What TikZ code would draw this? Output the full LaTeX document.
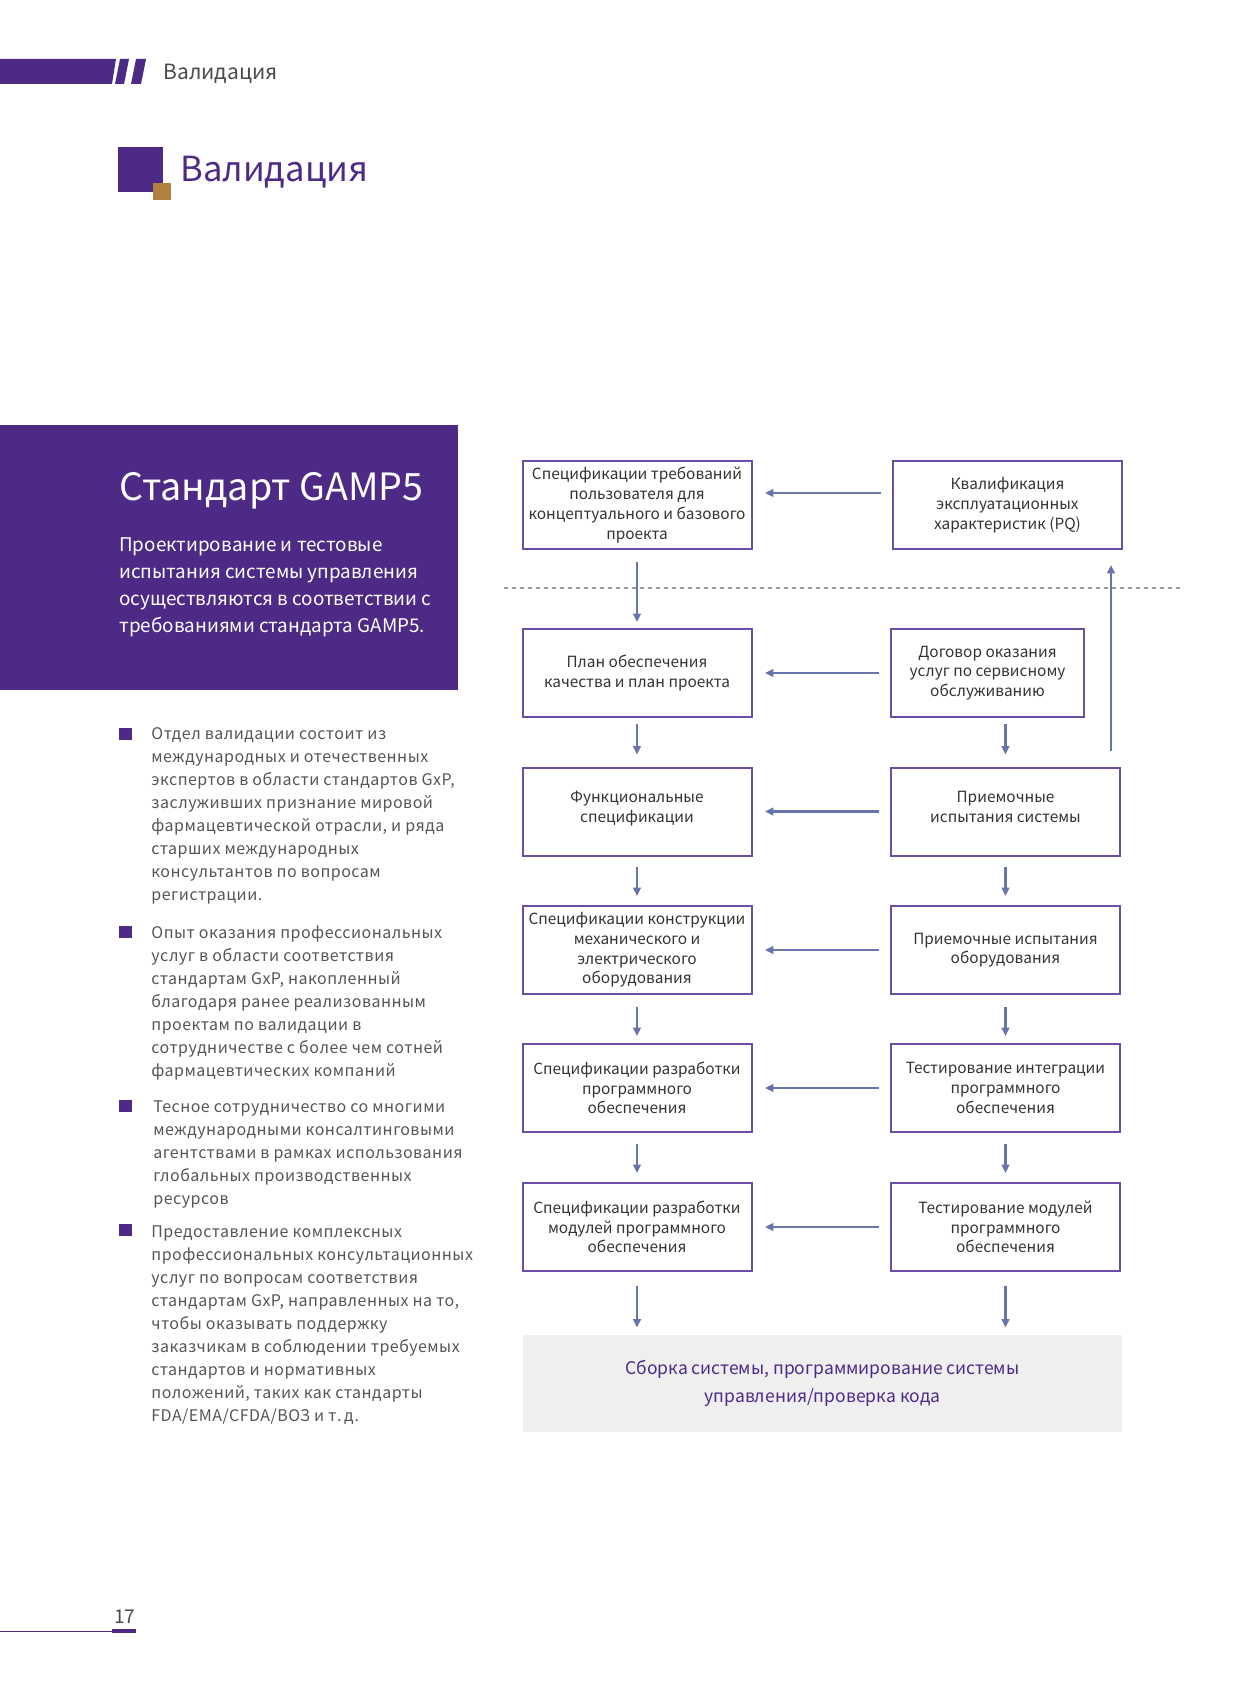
\documentclass[tikz,border=0pt]{standalone}
\usepackage{fontspec}
\setmainfont{Noto Sans CJK SC}
\newfontfamily\spacedfont[LetterSpace=3]{Noto Sans CJK SC}
\usetikzlibrary{arrows.meta}
\definecolor{purp}{HTML}{4E2A87}
\definecolor{bordc}{HTML}{6B4FA6}
\definecolor{arrc}{HTML}{6874AC}
\definecolor{gtext}{HTML}{4A4A4A}
\definecolor{btext}{HTML}{555555}
\definecolor{boxtext}{HTML}{333333}
\definecolor{gold}{HTML}{B0813F}
\definecolor{greybox}{HTML}{EFEFEF}
\definecolor{dashc}{HTML}{9A9A9A}
\tikzset{
  box/.style={draw=bordc, line width=1pt, minimum width=114.5pt, minimum height=44pt,
    align=center, inner sep=0pt, text=boxtext, font=\fontsize{7.7}{9.85}\selectfont},
  arr/.style={draw=arrc, line width=1.05pt, -{Triangle[length=4.2pt,width=3.8pt]}},
  dashline/.style={draw=dashc, line width=0.6pt, dash pattern=on 2pt off 2pt},
  bullettext/.style={anchor=base west, inner sep=0pt, text=btext, font=\spacedfont\fontsize{8}{11.5}\selectfont},
  bulletsq/.style={fill=purp},
}
\begin{document}
\begin{tikzpicture}[x=0.5pt,y=-0.5pt]
\useasboundingbox (0,0) rectangle (1240,1684);
% header band
\fill[purp] (0,59) -- (116,59) -- (112,84) -- (0,84) -- cycle;
\fill[purp] (120,59) -- (129,59) -- (124,84) -- (115,84) -- cycle;
\fill[purp] (136,59) -- (146,59) -- (141,84) -- (131,84) -- cycle;
\node[anchor=base west, inner sep=0pt, text=gtext, font=\fontsize{10.5}{12}\selectfont] (hdr) at (163,80) {Валидация};
% title
\fill[purp] (118,147) rectangle (163,192);
\fill[gold] (153,183) rectangle (171,200);
\node[anchor=base west, inner sep=0pt, text=purp, font=\fontsize{17.3}{20}\selectfont] (ttl) at (180,182) {Валидация};
% purple panel
\fill[purp] (0,425) rectangle (458,690);
\node[anchor=base west, inner sep=0pt, text=white, font=\fontsize{18.8}{22}\selectfont] (gamp) at (119,500) {Стандарт GAMP5};
\node[anchor=base west, inner sep=0pt, text=white, font=\fontsize{9.42}{13.5}\selectfont] (gampd) at (119,551)
 {\parbox[t]{200pt}{Проектирование и тестовые\\испытания системы управления\\осуществляются в соответствии с\\требованиями стандарта GAMP5.}};
% bullets
\fill[bulletsq] (119,728) rectangle (132,740);
\node[bullettext] (b1) at (151,739) {\parbox[t]{200pt}{Отдел валидации состоит из\\международных и отечественных\\экспертов в области стандартов GxP,\\заслуживших признание мировой\\фармацевтической отрасли, и ряда\\старших международных\\консультантов по вопросам\\регистрации.}};
\fill[bulletsq] (119,926) rectangle (132,938);
\node[bullettext] (b2) at (151,938) {\parbox[t]{200pt}{Опыт оказания профессиональных\\услуг в области соответствия\\стандартам GxP, накопленный\\благодаря ранее реализованным\\проектам по валидации в\\сотрудничестве с более чем сотней\\фармацевтических компаний}};
\fill[bulletsq] (119,1100) rectangle (132,1112);
\node[bullettext] (b3) at (153,1112) {\parbox[t]{200pt}{Тесное сотрудничество со многими\\международными консалтинговыми\\агентствами в рамках использования\\глобальных производственных\\ресурсов}};
\fill[bulletsq] (119,1224) rectangle (132,1236);
\node[bullettext] (b4) at (151,1237) {\parbox[t]{200pt}{Предоставление комплексных\\профессиональных консультационных\\услуг по вопросам соответствия\\стандартам GxP, направленных на то,\\чтобы оказывать поддержку\\заказчикам в соблюдении требуемых\\стандартов и нормативных\\положений, таких как стандарты\\FDA/EMA/CFDA/ВОЗ и т.\,д.}};
% page number
\draw[purp, line width=0.5pt] (0,1631) -- (112,1631);
\fill[purp] (112,1629) rectangle (136,1633);
\node[anchor=base west, inner sep=0pt, text=gtext, font=\fontsize{9.5}{11}\selectfont] (pg) at (114,1623) {17};
% dashed divider
\coordinate (d1) at (504,588);
\coordinate (d2) at (1181,588);
\draw[dashline] (d1) -- (d2);
% boxes
\node[box] (L1) at (637,505) {Спецификации требований\\пользователя для\\концептуального и базового\\проекта};
\node[box] (R1) at (1007.5,505) {Квалификация\\эксплуатационных\\характеристик (PQ)};
\node[box] (L2) at (637,673) {План обеспечения\\качества и план проекта};
\node[box, minimum width=96.5pt] (R2) at (987.5,673) {Договор оказания\\услуг по сервисному\\обслуживанию};
\node[box] (L3) at (637,811.5) {Функциональные\\спецификации\\[-5pt]\mbox{}};
\node[box] (R3) at (1005.5,811.5) {Приемочные\\испытания системы\\[-5pt]\mbox{}};
\node[box] (L4) at (637,950) {Спецификации конструкции\\механического и\\электрического\\оборудования};
\node[box] (R4) at (1005.5,950) {Приемочные испытания\\оборудования};
\node[box] (L5) at (637,1088) {Спецификации разработки\\программного\\обеспечения};
\node[box] (R5) at (1005.5,1088) {Тестирование интеграции\\программного\\обеспечения};
\node[box] (L6) at (637,1227) {Спецификации разработки\\модулей программного\\обеспечения};
\node[box] (R6) at (1005.5,1227) {Тестирование модулей\\программного\\обеспечения};
\node[fill=greybox, minimum width=299.5pt, minimum height=48.5pt, inner sep=0pt, align=center, text=purp,
  font=\fontsize{8.75}{14}\selectfont] (G) at (822.5,1383.5) {Сборка системы, программирование системы\\управления/проверка кода};
% horizontal arrows
\draw[arr] ([xshift=-5.5pt,yshift=6pt]R1.west) -- ([xshift=6.25pt,yshift=6pt]L1.east);
\draw[arr] ([xshift=-5.5pt]R2.west) -- ([xshift=6.25pt]L2.east);
\draw[arr] ([xshift=-5.5pt]R3.west) -- ([xshift=6.25pt]L3.east);
\draw[arr] ([xshift=-5.5pt]R4.west) -- ([xshift=6.25pt]L4.east);
\draw[arr] ([xshift=-5.5pt]R5.west) -- ([xshift=6.25pt]L5.east);
\draw[arr] ([xshift=-5.5pt]R6.west) -- ([xshift=6.25pt]L6.east);
% left vertical arrows
\draw[arr] ([yshift=-6pt]L1.south) -- ([yshift=3pt]L2.north);
\draw[arr] ([yshift=-3pt]L2.south) -- ([yshift=6pt]L3.north);
\draw[arr] ([yshift=-5pt]L3.south) -- ([yshift=4.5pt]L4.north);
\draw[arr] ([yshift=-6pt]L4.south) -- ([yshift=3.5pt]L5.north);
\draw[arr] ([yshift=-5.5pt]L5.south) -- ([yshift=4.5pt]L6.north);
\draw[arr] ([yshift=-7pt]L6.south) -- ([yshift=3.5pt]L6.south |- G.north);
% right vertical arrows
\coordinate (r2b) at ([yshift=-3pt]R2.south);
\draw[arr] (r2b -| R3.north) -- ([yshift=6pt]R3.north);
\draw[arr] ([yshift=-5pt]R3.south) -- ([yshift=4.5pt]R4.north);
\draw[arr] ([yshift=-6pt]R4.south) -- ([yshift=3.5pt]R5.north);
\draw[arr] ([yshift=-5.5pt]R5.south) -- ([yshift=4.5pt]R6.north);
\draw[arr] ([yshift=-7pt]R6.south) -- ([yshift=3.5pt]R6.south |- G.north);
% upward arrow to PQ
\coordinate (u1) at (1111,751);
\coordinate (u2) at (1111,565);
\draw[arr] (u1) -- (u2);
\end{tikzpicture}
\end{document}
